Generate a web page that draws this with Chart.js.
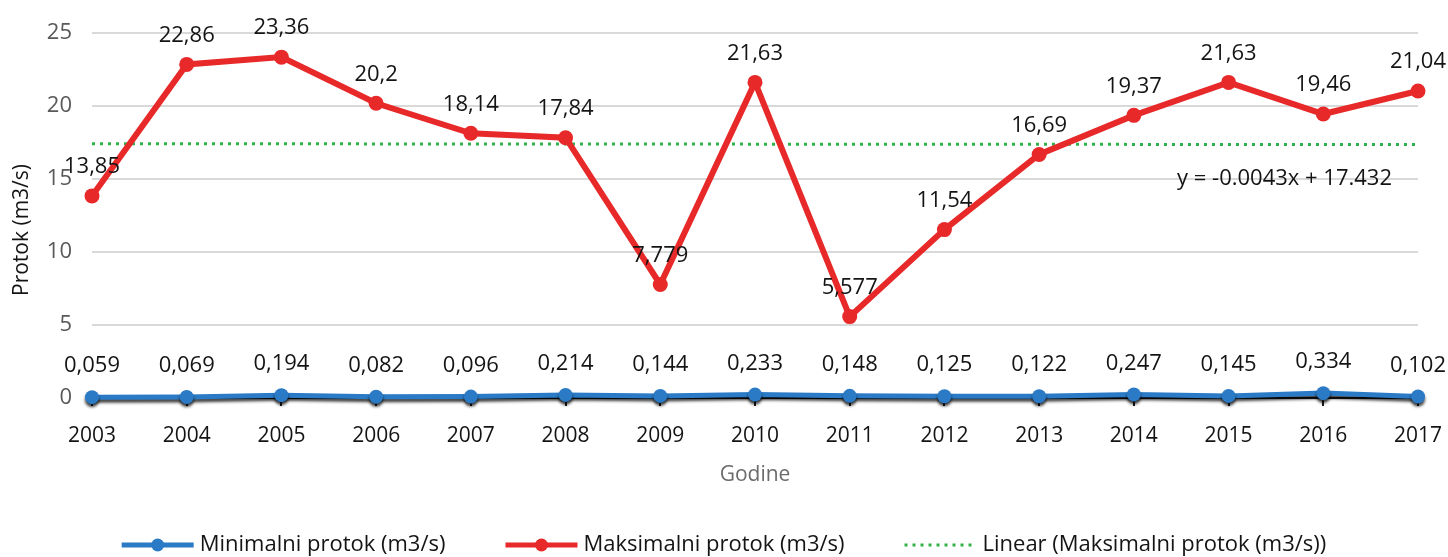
<!DOCTYPE html>
<html>
<head>
<meta charset="utf-8">
<script src="https://cdn.jsdelivr.net/npm/chart.js@4.4.1/dist/chart.umd.min.js"></script>
<style>
  html, body { margin: 0; padding: 0; background: #fff; }
  #wrap { width: 1448px; height: 557px; }
</style>
</head>
<body>
<div id="wrap"><canvas id="flowChart" width="1448" height="557"></canvas></div>
<script>
// years on the x axis
const years = ['2003', '2004', '2005', '2006', '2007', '2008', '2009', '2010',
               '2011', '2012', '2013', '2014', '2015', '2016', '2017'];

// minimal and maximal flow per year (m3/s)
const minFlow = [0.059, 0.069, 0.194, 0.082, 0.096, 0.214, 0.144, 0.233,
                 0.148, 0.125, 0.122, 0.247, 0.145, 0.334, 0.102];
const maxFlow = [13.85, 22.86, 23.36, 20.2, 18.14, 17.84, 7.779, 21.63,
                 5.577, 11.54, 16.69, 19.37, 21.63, 19.46, 21.04];

const yTicks = [0, 5, 10, 15, 20, 25];

const FONT = "'Open Sans', 'DejaVu Sans', sans-serif";
const BLUE = '#2a7ac6';
const RED = '#e8292a';
const GREEN = '#2fb24c';
const INK = '#141414';

// least squares trend of the max series (Excel "Linear" trendline, x = 1..n)
function linearFit(values) {
    const n = values.length;
    let sx = 0, sy = 0, sxy = 0, sxx = 0;
    values.forEach((v, i) => {
        const x = i + 1;
        sx += x; sy += v; sxy += x * v; sxx += x * x;
    });
    const slope = (n * sxy - sx * sy) / (n * sxx - sx * sx);
    const intercept = (sy - slope * sx) / n;
    return { slope, intercept };
}
const fit = linearFit(maxFlow);
const trendLine = maxFlow.map((v, i) => fit.slope * (i + 1) + fit.intercept);

const fmt = v => String(v).replace('.', ',');

// value labels above the points + trend equation + y title
const valueLabels = {
    id: 'valueLabels',
    afterDatasetsDraw(chart) {
        const ctx = chart.ctx;
        ctx.save();
        ctx.font = '22px ' + FONT;
        ctx.fillStyle = INK;
        ctx.textAlign = 'center';
        ctx.textBaseline = 'middle';
        [0, 1].forEach(di => {
            const meta = chart.getDatasetMeta(di);
            const data = chart.data.datasets[di].data;
            const lift = di === 0 ? 31 : 29;
            meta.data.forEach((pt, i) => {
                ctx.fillText(fmt(data[i]), pt.x, pt.y - lift);
            });
        });

        // trendline equation
        const sign = fit.intercept >= 0 ? '+' : '-';
        const eq = 'y = ' + fit.slope.toFixed(4) + 'x ' + sign + ' ' + Math.abs(fit.intercept).toFixed(3);
        ctx.font = '22px ' + FONT;
        ctx.textAlign = 'right';
        const y15 = chart.scales.y.getPixelForValue(15);
        ctx.fillText(eq, chart.chartArea.right - 26, y15);

        // y axis title, sits a bit low like the original
        ctx.translate(22, 230);
        ctx.rotate(-Math.PI / 2);
        ctx.textAlign = 'center';
        ctx.font = '21px ' + FONT;
        ctx.fillText('Protok (m3/s)', 0, 0);
        ctx.restore();
    }
};

// shadow under the blue series, like the Excel original
const blueShadow = {
    id: 'blueShadow',
    beforeDatasetDraw(chart, args) {
        if (args.index !== 0) return;
        const ctx = chart.ctx;
        ctx.save();
        ctx.shadowColor = 'rgba(0,0,0,0.75)';
        ctx.shadowOffsetY = 3;
        ctx.shadowBlur = 3;
    },
    afterDatasetDraw(chart, args) {
        if (args.index !== 0) return;
        chart.ctx.restore();
    }
};

// legend drawn by hand, line samples with a marker in the middle
const bottomLegend = {
    id: 'bottomLegend',
    afterDraw(chart) {
        const ctx = chart.ctx;
        const y = 545;
        const sampleW = 72;
        const items = chart.data.datasets;
        ctx.save();
        ctx.font = '22px ' + FONT;
        ctx.textBaseline = 'middle';
        const gap = 6, itemGap = 60;
        const widths = items.map(ds => sampleW + gap + ctx.measureText(ds.label).width);
        const total = widths.reduce((a, b) => a + b, 0) + itemGap * (items.length - 1);
        let x = 724 - total / 2;
        items.forEach((ds, i) => {
            ctx.strokeStyle = ds.borderColor;
            ctx.lineWidth = ds.borderDash ? 3 : 5;
            ctx.setLineDash(ds.borderDash || []);
            ctx.beginPath();
            ctx.moveTo(x, y);
            ctx.lineTo(x + sampleW, y);
            ctx.stroke();
            ctx.setLineDash([]);
            if (ds.pointRadius > 0) {
                ctx.fillStyle = ds.borderColor;
                ctx.beginPath();
                ctx.arc(x + sampleW / 2, y, 6.5, 0, Math.PI * 2);
                ctx.fill();
            }
            ctx.fillStyle = INK;
            ctx.textAlign = 'left';
            ctx.fillText(ds.label, x + sampleW + gap, y);
            x += widths[i] + itemGap;
        });
        ctx.restore();
    }
};

new Chart(document.getElementById('flowChart'), {
    type: 'line',
    data: {
        labels: years,
        datasets: [
            {
                label: 'Minimalni protok (m3/s)',
                data: minFlow,
                borderColor: BLUE,
                backgroundColor: BLUE,
                borderWidth: 5,
                pointRadius: 7,
                pointHoverRadius: 7,
                pointBackgroundColor: BLUE,
                pointBorderWidth: 0,
                tension: 0,
                clip: false
            },
            {
                label: 'Maksimalni protok (m3/s)',
                data: maxFlow,
                borderColor: RED,
                backgroundColor: RED,
                borderWidth: 6,
                pointRadius: 7.5,
                pointHoverRadius: 7.5,
                pointBackgroundColor: RED,
                pointBorderWidth: 0,
                tension: 0,
                clip: false
            },
            {
                label: 'Linear (Maksimalni protok (m3/s))',
                data: trendLine,
                borderColor: GREEN,
                borderWidth: 3,
                borderDash: [3, 5],
                pointRadius: 0,
                tension: 0,
                clip: false
            }
        ]
    },
    options: {
        responsive: false,
        devicePixelRatio: 1,
        animation: false,
        layout: { padding: { left: 0, right: 30, top: 30, bottom: 59 } },
        plugins: {
            legend: { display: false },
            tooltip: { enabled: false }
        },
        scales: {
            x: {
                offset: false,
                grid: {
                    drawOnChartArea: false,
                    drawTicks: true,
                    tickLength: 8,
                    color: '#1a1a1a',
                    lineWidth: 2
                },
                border: { display: true, color: '#1a1a1a', width: 2 },
                ticks: {
                    color: INK,
                    font: { family: FONT, size: 21 },
                    padding: 17,
                    maxRotation: 0,
                    autoSkip: false
                },
                title: {
                    display: true,
                    text: 'Godine',
                    color: '#6b6b6b',
                    font: { family: FONT, size: 21 },
                    padding: { top: 0, bottom: 10 }
                },
                afterFit(scale) {
                    scale.height = 100;
                    // keep the plot edges where the layout padding puts them
                    scale.paddingLeft = 0;
                    scale.paddingRight = 0;
                }
            },
            y: {
                min: 0,
                max: 25,
                afterBuildTicks(scale) {
                    scale.ticks = yTicks.map(v => ({ value: v }));
                },
                grid: {
                    color: '#d9d9d9',
                    lineWidth: 2,
                    drawTicks: false
                },
                border: { display: false },
                ticks: {
                    color: '#595959',
                    font: { family: FONT, size: 22 },
                    padding: 20
                },
                afterFit(scale) { scale.width = 92; }
            }
        }
    },
    plugins: [blueShadow, valueLabels, bottomLegend]
});
</script>
</body>
</html>
